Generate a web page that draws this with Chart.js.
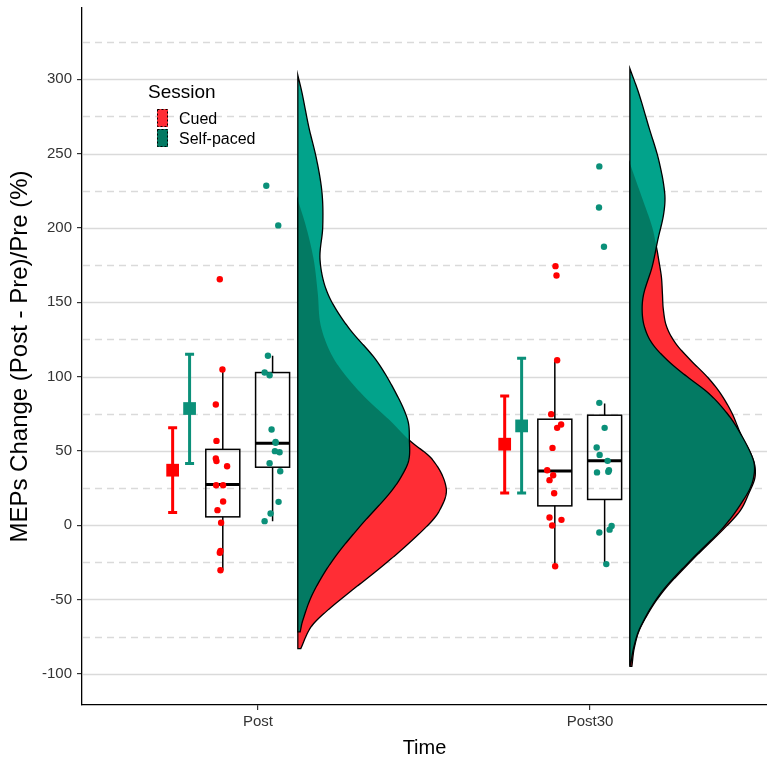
<!DOCTYPE html>
<html>
<head>
<meta charset="utf-8">
<script src="https://cdn.jsdelivr.net/npm/chart.js@4.4.1/dist/chart.umd.min.js"></script>
<style>
  html, body { margin: 0; padding: 0; background: #fff; }
  #wrap { width: 767px; height: 760px; }
</style>
</head>
<body>
<div id="wrap"><canvas id="chart" width="767" height="760"></canvas></div>
<script>
const timePoints = ['Post', 'Post30'];
const sessions = ['Cued', 'Self-paced'];
const yTicks = [-100, -50, 0, 50, 100, 150, 200, 250, 300];
const yMinorTicks = [-125, -75, -25, 25, 75, 125, 175, 225, 275, 325];

// mean +/- CI per time point
const cuedMean = [37, 54.5];
const cuedLow = [8.5, 21.7];
const cuedHigh = [65.5, 87];
const selfMean = [78.5, 66.8];
const selfLow = [41.5, 21.7];
const selfHigh = [115, 112.4];

// box stats: lower whisker, q1, median, q3, upper whisker
const cuedBox = [[-30.3, 5.6, 27.4, 51, 104.8], [-27.6, 13, 36.5, 71.3, 111]];
const selfBox = [[2.7, 39, 55.2, 102.7, 114], [-26.2, 17.3, 43.3, 74, 81.9]];

// individual subjects (+ jitter, x units)
const cuedPost = [165.5, 104.8, 81.2, 56.7, 44.9, 43.1, 39.7, 26.9, 26.9, 15.9, 10.1, 1.6, -17.3, -18.6, -30.3];
const cuedPostJit = [-0.009, -0.001, -0.021, -0.019, -0.021, -0.019, 0.013, -0.020, 0.001, 0.001, -0.016, -0.005, -0.007, -0.009, -0.007];
const selfPost = [228.4, 201.7, 114, 102.7, 100.9, 64.4, 55.4, 49.8, 49.1, 41.7, 36.3, 15.7, 7.9, 2.7, 56];
const selfPostJit = [-0.019, 0.017, -0.014, -0.024, -0.009, -0.003, 0.009, 0.007, 0.021, -0.009, 0.023, 0.018, -0.006, -0.024, 0.009];
const cuedPost30 = [174.3, 168, 111, 74.7, 67.7, 65.5, 52, 37, 33.6, 30.3, 21.5, 5.2, 3.6, -0.2, -27.6];
const cuedPost30Jit = [0.002, 0.005, 0.007, -0.011, 0.019, 0.007, -0.007, -0.023, -0.005, -0.016, -0.002, -0.016, 0.020, -0.008, 0.001];
const selfPost30 = [241.4, 213.8, 187.3, 82.3, 65.5, 52.3, 47.3, 43.3, 35.5, 35.9, 37, -0.5, -4.9, -26.2, -3];
const selfPost30Jit = [-0.016, -0.017, -0.002, -0.016, 0, -0.024, -0.015, 0.009, -0.023, 0.011, 0.013, 0.021, -0.016, 0.005, 0.015];

// half-violin densities: y value and half width (x units)
const cuedPostDensY = [-83, -68.4, -57.2, -46, -23.6, -1.1, 10, 24.7, 43.7, 57.2, 70.7, 88.6, 111, 133.4, 156, 178.3, 200.7, 218.7];
const cuedPostDensW = [0.009, 0.040, 0.090, 0.151, 0.276, 0.387, 0.427, 0.447, 0.407, 0.336, 0.276, 0.191, 0.111, 0.070, 0.060, 0.048, 0.025, 0];
const selfPostDensY = [-71.8, -64, -46, -23.6, -1.1, 21.3, 32.5, 43.7, 57.2, 70.7, 88.6, 111, 133.4, 155.9, 178.3, 200.7, 223.2, 245.6, 268, 290.5, 302.8];
const selfPostDensW = [0.007, 0.015, 0.045, 0.105, 0.186, 0.276, 0.311, 0.334, 0.336, 0.331, 0.296, 0.236, 0.151, 0.090, 0.067, 0.075, 0.073, 0.057, 0.033, 0.013, 0];
const cuedPost30DensY = [-95, -81.9, -68.4, -46, -23.6, -1.1, 10, 21.3, 32.5, 43.7, 61.7, 75.2, 88.6, 99.8, 111, 122.3, 133.4, 144.7, 155.9, 167, 178.3, 187.3, 200.7, 223.2, 243.4];
const cuedPost30DensW = [0.006, 0.014, 0.033, 0.095, 0.187, 0.289, 0.333, 0.358, 0.377, 0.372, 0.333, 0.308, 0.273, 0.233, 0.183, 0.138, 0.111, 0.101, 0.098, 0.095, 0.087, 0.080, 0.067, 0.032, 0];
const selfPost30DensY = [-94.2, -81.9, -68.4, -46, -23.6, -1.1, 21.3, 32.5, 43.7, 61.7, 75.2, 88.6, 99.8, 111, 122.3, 133.4, 144.7, 155.9, 173.8, 191.8, 209.8, 223.2, 245.6, 268, 290.5, 307.3];
const selfPost30DensW = [0.002, 0.012, 0.032, 0.092, 0.183, 0.283, 0.354, 0.373, 0.372, 0.333, 0.293, 0.238, 0.173, 0.113, 0.067, 0.044, 0.037, 0.042, 0.067, 0.084, 0.102, 0.105, 0.087, 0.057, 0.027, 0];

const RED = '#FF0000';
const TEAL = '#0B9079';
const RED_FILL = '#FF2D35';
const TEAL_FILL = '#02A38B';
const TEAL_DARK = '#037A63';

// dodge offsets within a time point
const OFF_CUED_MEAN = -0.257;
const OFF_SELF_MEAN = -0.206;
const OFF_CUED_BOX = -0.106;
const OFF_SELF_BOX = 0.044;
const OFF_DENS = 0.12;

const densities = [
    { cued: [cuedPostDensY, cuedPostDensW], self: [selfPostDensY, selfPostDensW] },
    { cued: [cuedPost30DensY, cuedPost30DensW], self: [selfPost30DensY, selfPost30DensW] }
];

function widthAt(vals, ws, v) {
    const n = vals.length;
    if (v <= vals[0]) return ws[0];
    if (v >= vals[n - 1]) return ws[n - 1];
    let i = 0;
    while (v > vals[i + 1]) i++;
    const slope = function (k) {
        if (k === 0) return (ws[1] - ws[0]) / (vals[1] - vals[0]);
        if (k === n - 1) return (ws[n - 1] - ws[n - 2]) / (vals[n - 1] - vals[n - 2]);
        return (ws[k + 1] - ws[k - 1]) / (vals[k + 1] - vals[k - 1]);
    };
    const h = vals[i + 1] - vals[i], t = (v - vals[i]) / h;
    const t2 = t * t, t3 = t2 * t;
    const w = (2 * t3 - 3 * t2 + 1) * ws[i] + (t3 - 2 * t2 + t) * h * slope(i)
        + (-2 * t3 + 3 * t2) * ws[i + 1] + (t3 - t2) * h * slope(i + 1);
    return Math.max(0, w);
}

function densPath(ctx, xs, ys, base, from, to, fn) {
    ctx.beginPath();
    ctx.moveTo(xs.getPixelForValue(base), ys.getPixelForValue(from));
    for (let v = from; v < to; v += 0.5) {
        ctx.lineTo(xs.getPixelForValue(base + fn(v)), ys.getPixelForValue(v));
    }
    ctx.lineTo(xs.getPixelForValue(base + fn(to)), ys.getPixelForValue(to));
    ctx.lineTo(xs.getPixelForValue(base), ys.getPixelForValue(to));
    ctx.closePath();
}

const raincloud = {
    id: 'raincloud',
    beforeDatasetsDraw(chart) {
        const ctx = chart.ctx;
        const xs = chart.scales.x, ys = chart.scales.y;
        const area = chart.chartArea;
        ctx.save();
        ctx.beginPath();
        ctx.rect(area.left, area.top, area.right - area.left, area.bottom - area.top);
        ctx.clip();

        // grid
        ctx.lineWidth = 1.3;
        ctx.strokeStyle = '#DADADA';
        yTicks.forEach(function (v) {
            const y = Math.round(ys.getPixelForValue(v)) + 0.5;
            ctx.beginPath(); ctx.moveTo(area.left + 1, y); ctx.lineTo(area.right, y); ctx.stroke();
        });
        ctx.setLineDash([7, 5]);
        yMinorTicks.forEach(function (v) {
            const y = Math.round(ys.getPixelForValue(v)) + 0.5;
            ctx.beginPath(); ctx.moveTo(area.left + 1, y); ctx.lineTo(area.right, y); ctx.stroke();
        });
        ctx.setLineDash([]);

        // half violins
        densities.forEach(function (d, i) {
            const base = i + 1 + OFF_DENS;
            const c = d.cued, s = d.self;
            const fc = v => widthAt(c[0], c[1], v);
            const fs = v => widthAt(s[0], s[1], v);
            const cFrom = c[0][0], cTo = c[0][c[0].length - 1];
            const sFrom = s[0][0], sTo = s[0][s[0].length - 1];
            ctx.lineWidth = 1.3;
            ctx.strokeStyle = '#000';
            densPath(ctx, xs, ys, base, cFrom, cTo, fc);
            ctx.fillStyle = RED_FILL; ctx.fill(); ctx.stroke();
            densPath(ctx, xs, ys, base, sFrom, sTo, fs);
            ctx.fillStyle = TEAL_FILL; ctx.fill();
            const oFrom = Math.max(cFrom, sFrom), oTo = Math.min(cTo, sTo);
            densPath(ctx, xs, ys, base, oFrom, oTo, v => Math.min(fc(v), fs(v)));
            ctx.fillStyle = TEAL_DARK; ctx.fill();
            densPath(ctx, xs, ys, base, sFrom, sTo, fs);
            ctx.stroke();
        });

        // mean +/- CI
        const bars = [[cuedMean, cuedLow, cuedHigh, OFF_CUED_MEAN, RED], [selfMean, selfLow, selfHigh, OFF_SELF_MEAN, TEAL]];
        bars.forEach(function (b) {
            ctx.strokeStyle = b[4];
            ctx.lineWidth = 3;
            for (let i = 0; i < timePoints.length; i++) {
                const x = xs.getPixelForValue(i + 1 + b[3]);
                const yl = ys.getPixelForValue(b[1][i]), yh = ys.getPixelForValue(b[2][i]);
                ctx.beginPath();
                ctx.moveTo(x, yl); ctx.lineTo(x, yh);
                ctx.moveTo(x - 4.5, yl); ctx.lineTo(x + 4.5, yl);
                ctx.moveTo(x - 4.5, yh); ctx.lineTo(x + 4.5, yh);
                ctx.stroke();
            }
        });

        // boxplots
        const boxes = [[cuedBox, OFF_CUED_BOX], [selfBox, OFF_SELF_BOX]];
        boxes.forEach(function (b) {
            for (let i = 0; i < timePoints.length; i++) {
                const st = b[0][i];
                const x = xs.getPixelForValue(i + 1 + b[1]);
                const p = st.map(v => ys.getPixelForValue(v));
                ctx.strokeStyle = '#000';
                ctx.lineWidth = 1.5;
                ctx.beginPath();
                ctx.moveTo(x, p[0]); ctx.lineTo(x, p[1]);
                ctx.moveTo(x, p[3]); ctx.lineTo(x, p[4]);
                ctx.stroke();
                ctx.strokeRect(x - 17, p[3], 34, p[1] - p[3]);
                ctx.lineWidth = 3;
                ctx.beginPath();
                ctx.moveTo(x - 17, p[2]); ctx.lineTo(x + 17, p[2]);
                ctx.stroke();
            }
        });
        ctx.restore();
    },
    afterDraw(chart) {
        const ctx = chart.ctx;
        ctx.save();
        ctx.fillStyle = '#000';
        ctx.textBaseline = 'alphabetic';
        ctx.font = '19px "Liberation Sans", Arial, sans-serif';
        ctx.fillText('Session', 148, 98);
        const keys = [[RED_FILL, 109], [TEAL_DARK, 129]];
        ctx.font = '16px "Liberation Sans", Arial, sans-serif';
        keys.forEach(function (k, i) {
            ctx.fillStyle = k[0];
            ctx.fillRect(157, k[1], 11, 18);
            ctx.strokeStyle = '#000';
            ctx.lineWidth = 1;
            ctx.setLineDash([2, 2]);
            ctx.strokeRect(157.5, k[1] + 0.5, 10, 17);
            ctx.setLineDash([]);
            ctx.fillStyle = '#000';
            ctx.fillText(sessions[i], 179, k[1] + 15);
        });
        ctx.restore();
    }
};

function pts(vals, jit, t, off) {
    return vals.map((v, i) => ({ x: t + off + jit[i], y: v }));
}

const datasets = [
    {
        label: 'Cued points',
        data: pts(cuedPost, cuedPostJit, 1, OFF_CUED_BOX).concat(pts(cuedPost30, cuedPost30Jit, 2, OFF_CUED_BOX)),
        backgroundColor: RED, borderWidth: 0, pointRadius: 3.2
    },
    {
        label: 'Self-paced points',
        data: pts(selfPost, selfPostJit, 1, OFF_SELF_BOX).concat(pts(selfPost30, selfPost30Jit, 2, OFF_SELF_BOX)),
        backgroundColor: TEAL, borderWidth: 0, pointRadius: 3.2
    },
    {
        label: 'Cued mean',
        data: cuedMean.map((v, i) => ({ x: i + 1 + OFF_CUED_MEAN, y: v })),
        backgroundColor: RED, borderWidth: 0, pointStyle: 'rect', pointRadius: 9
    },
    {
        label: 'Self-paced mean',
        data: selfMean.map((v, i) => ({ x: i + 1 + OFF_SELF_MEAN, y: v })),
        backgroundColor: TEAL, borderWidth: 0, pointStyle: 'rect', pointRadius: 9
    }
];

const tickFont = { family: '"Liberation Sans", Arial, sans-serif', size: 15 };
const xTitleFont = { family: '"Liberation Sans", Arial, sans-serif', size: 20 };
const yTitleFont = { family: '"Liberation Sans", Arial, sans-serif', size: 24 };

new Chart(document.getElementById('chart'), {
    type: 'scatter',
    data: { datasets: datasets },
    options: {
        responsive: false,
        animation: false,
        layout: { autoPadding: false, padding: { top: 8, right: 0, left: 0, bottom: 0 } },
        plugins: { legend: { display: false }, tooltip: { enabled: false } },
        scales: {
            x: {
                type: 'linear', min: 0.47, max: 2.533,
                afterBuildTicks: function (s) { s.ticks = [1, 2].map(v => ({ value: v })); },
                afterFit: function (s) { s.height = 55; s.paddingLeft = 0; s.paddingRight = 0; },
                grid: { drawOnChartArea: false, drawTicks: true, tickLength: 5, color: '#333', lineWidth: 1.2 },
                border: { color: '#000', width: 1.3 },
                ticks: { autoSkip: false, maxRotation: 0, padding: 3, color: '#333', font: tickFont,
                    callback: (v, i) => timePoints[i] },
                title: { display: true, text: 'Time', color: '#000', font: xTitleFont, padding: { top: 0, bottom: 0 } }
            },
            y: {
                type: 'linear', min: -121, max: 348,
                afterBuildTicks: function (s) { s.ticks = yTicks.map(v => ({ value: v })); },
                afterFit: function (s) { s.width = 82; s.paddingTop = 0; s.paddingBottom = 0; },
                grid: { drawOnChartArea: false, drawTicks: true, tickLength: 5, color: '#333', lineWidth: 1.2 },
                border: { color: '#000', width: 1.3 },
                ticks: { padding: 5, color: '#333', font: tickFont },
                title: { display: true, text: 'MEPs Change (Post - Pre)/Pre (%)', color: '#000', font: yTitleFont, padding: { top: 6, bottom: 0 } }
            }
        }
    },
    plugins: [raincloud]
});
</script>
</body>
</html>
